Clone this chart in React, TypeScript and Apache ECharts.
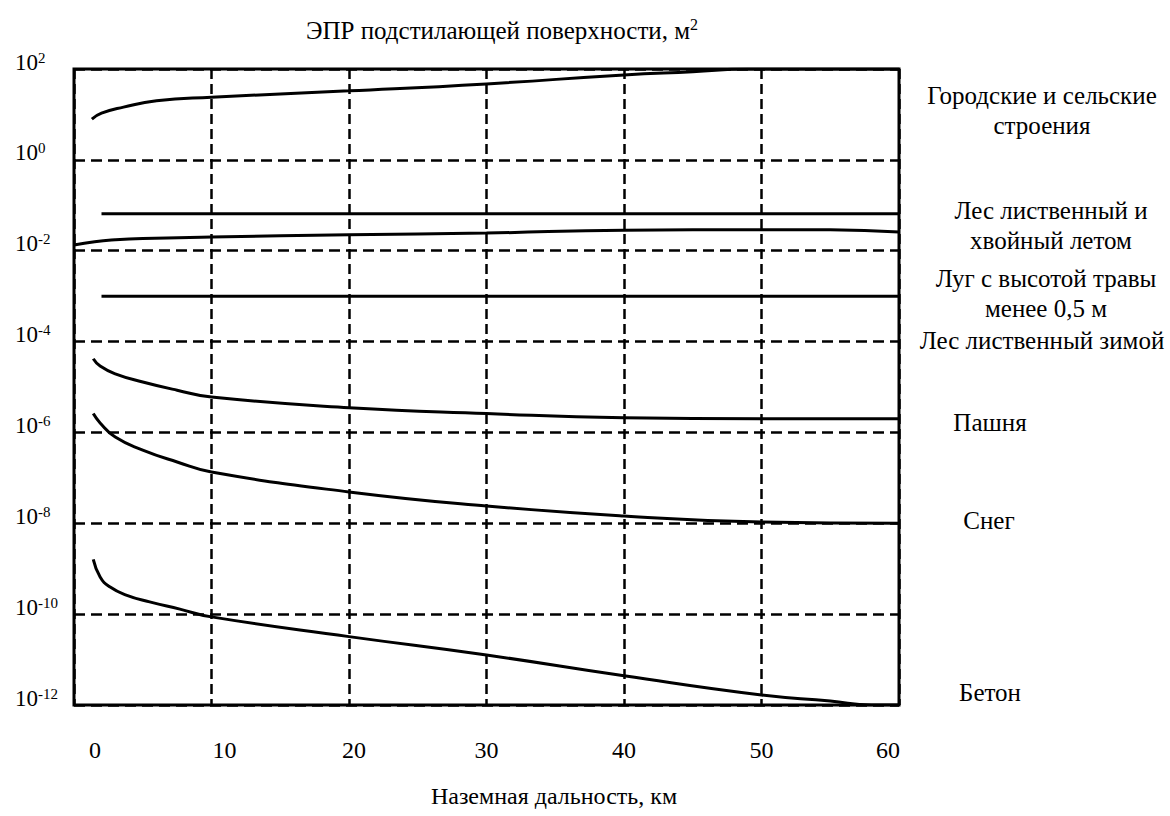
import React, { useEffect, useRef } from "react";
import * as echarts from "echarts";

const FONT = "Liberation Serif";

// X axis ticks (km)
const xTicks = [0, 10, 20, 30, 40, 50, 60];

// Городские и сельские строения
const cityX = [1.3, 2, 3.6, 6, 10, 20, 30, 40, 45, 49, 60];
const cityY = [7.9, 10.7, 14.5, 20, 24, 33, 47, 74, 87, 100, 100];

// Лес лиственный и хвойный летом (flat line)
const forestSummerX = [2, 60];
const forestSummerY = [0.065, 0.065];

// Second curve near 10^-2
const forestCurveX = [0, 1.5, 3, 5, 10, 20, 30, 40, 50, 55, 60];
const forestCurveY = [0.0133, 0.0158, 0.0174, 0.0186, 0.02, 0.0224, 0.0245, 0.0282, 0.029, 0.0288, 0.0257];

// Луг с высотой травы менее 0,5 м (flat line)
const meadowX = [2, 60];
const meadowY = [0.001, 0.001];

// Пашня
const fieldX = [1.4, 1.9, 3, 5, 7.5, 10, 20, 30, 40, 50, 60];
const fieldY = [4.2e-5, 2.9e-5, 1.95e-5, 1.29e-5, 8.5e-6, 6.0e-6, 3.5e-6, 2.6e-6, 2.1e-6, 2.0e-6, 2.0e-6];

// Снег
const snowX = [1.4, 1.9, 3, 5, 7.5, 10, 20, 30, 40, 50, 60];
const snowY = [2.6e-6, 1.62e-6, 7.9e-7, 4.1e-7, 2.24e-7, 1.35e-7, 4.9e-8, 2.4e-8, 1.45e-8, 1.07e-8, 1.0e-8];

// Бетон
const concreteX = [1.4, 1.9, 2.6, 3.85, 5.5, 7.7, 10, 20, 30, 40, 50, 55, 58, 60];
const concreteY = [1.6e-9, 6.6e-10, 4.0e-10, 2.6e-10, 1.86e-10, 1.29e-10, 8.7e-11, 3.2e-11, 1.26e-11, 4.4e-12, 1.66e-12, 1.23e-12, 1e-12, 1e-12];

const curves = [
  [cityX, cityY],
  [forestSummerX, forestSummerY],
  [forestCurveX, forestCurveY],
  [meadowX, meadowY],
  [fieldX, fieldY],
  [snowX, snowY],
  [concreteX, concreteY],
];

const rightLabels = [
  { text: "Городские и сельские\nстроения", x: 1042, y: 110 },
  { text: "Лес лиственный и\nхвойный летом", x: 1051, y: 225 },
  { text: "Луг с высотой травы\nменее 0,5 м", x: 1046, y: 293 },
  { text: "Лес лиственный зимой", x: 1042, y: 340 },
  { text: "Пашня", x: 990, y: 422 },
  { text: "Снег", x: 989, y: 520 },
  { text: "Бетон", x: 990, y: 692 },
];

const zip = (xs: number[], ys: number[]) => xs.map((x, i) => [x, ys[i]]);

function buildOption() {
  const tick = (extra: any = {}) => ({ fontFamily: FONT, fontSize: 24, color: "#000", ...extra });
  return {
    animation: false,
    grid: {
      left: 74,
      right: 271,
      top: 69,
      bottom: 111,
      show: true,
      borderColor: "#000",
      borderWidth: 3,
    },
    xAxis: {
      type: "value",
      min: 0,
      max: 60,
      interval: 10,
      axisLine: { show: false },
      axisTick: { show: false },
      splitLine: { show: true, lineStyle: { color: "#000", width: 2.5, type: [10, 5] } },
      axisLabel: {
        margin: 33,
        color: "#000",
        fontFamily: FONT,
        fontSize: 24,
        formatter: (v: number) => (xTicks.includes(v) ? `{t${v}|${v}}` : ""),
        rich: {
          t0: tick({ padding: [0, 0, 0, 42] }),
          t10: tick({ padding: [0, 0, 0, 26] }),
          t20: tick({ padding: [0, 0, 0, 10] }),
          t30: tick(),
          t40: tick(),
          t50: tick(),
          t60: tick({ padding: [0, 22, 0, 0] }),
        },
      },
    },
    yAxis: {
      type: "log",
      logBase: 10,
      min: 1e-12,
      max: 1e2,
      interval: 2,
      axisLine: { show: false },
      axisTick: { show: false },
      splitLine: { show: true, lineStyle: { color: "#000", width: 2.5, type: [11, 6] } },
      axisLabel: {
        margin: 59,
        align: "left",
        padding: [0, 0, 14, 0],
        fontFamily: FONT,
        formatter: (v: number) => `{b|10}{s|${Math.round(Math.log10(v))}}`,
        rich: {
          b: { fontFamily: FONT, fontSize: 23, color: "#000", lineHeight: 24 },
          s: { fontFamily: FONT, fontSize: 15, color: "#000", verticalAlign: "top", lineHeight: 15 },
        },
      },
    },
    series: curves.map(([xs, ys]) => ({
      type: "line",
      data: zip(xs, ys),
      showSymbol: false,
      smooth: 0.5,
      lineStyle: { color: "#000", width: 3 },
    })),
    graphic: [
      {
        type: "text",
        x: 502,
        y: 30,
        style: {
          text: "{a|ЭПР подстилающей поверхности, м}{s|2}",
          align: "center",
          verticalAlign: "middle",
          fill: "#000",
          rich: {
            a: { fontFamily: FONT, fontSize: 25, fill: "#000", lineHeight: 28 },
            s: { fontFamily: FONT, fontSize: 16, fill: "#000", verticalAlign: "top", lineHeight: 16 },
          },
        },
      },
      {
        type: "text",
        x: 554,
        y: 796,
        style: {
          text: "Наземная дальность, км",
          font: "24px 'Liberation Serif'",
          fill: "#000",
          align: "center",
          verticalAlign: "middle",
        },
      },
      ...rightLabels.map((l) => ({
        type: "text",
        x: l.x,
        y: l.y,
        style: {
          text: l.text,
          font: "25px 'Liberation Serif'",
          lineHeight: 30,
          fill: "#000",
          align: "center",
          verticalAlign: "middle",
        },
      })),
    ],
  };
}

function Chart() {
  const ref = useRef<HTMLDivElement>(null);
  useEffect(() => {
    if (!ref.current) return;
    const chart = echarts.init(ref.current, null, { renderer: "svg" });
    chart.setOption(buildOption() as any);
    return () => chart.dispose();
  }, []);
  return (
    <div
      ref={ref}
      style={{ position: "fixed", left: 0, top: 0, width: 1170, height: 816, background: "#fff" }}
    />
  );
}

export default function App() {
  return (
    <div>
      <Chart />
    </div>
  );
}
